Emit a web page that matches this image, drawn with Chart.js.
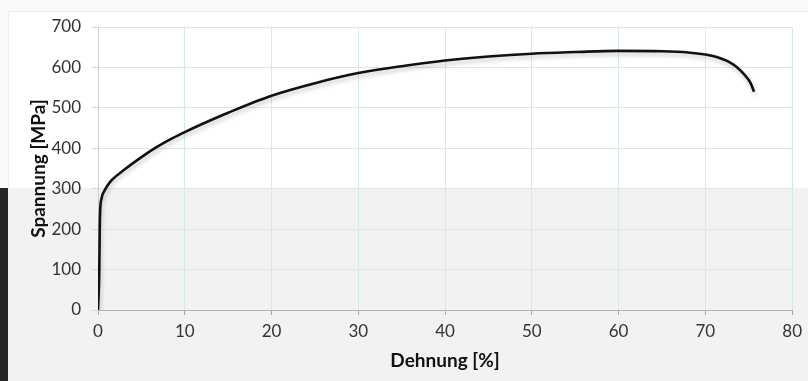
<!DOCTYPE html>
<html><head><meta charset="utf-8">
<script src="https://cdn.jsdelivr.net/npm/chart.js@4"></script>
<style>
html,body{margin:0;padding:0;}
body{width:808px;height:381px;position:relative;overflow:hidden;background:#fafafa;}
#card{position:absolute;left:8px;top:11px;right:0;height:177px;background:#fff;border-top:1px solid #ececec;border-left:1px solid #ececec;}
#bottom{position:absolute;left:0;top:188px;width:808px;height:193px;background:#f2f2f2;}
#strip{position:absolute;left:0;top:188px;width:8px;height:193px;background:#262626;}
#wrap{position:absolute;left:0;top:0;width:808px;height:381px;}
</style></head>
<body>
<div id="card"></div><div id="bottom"></div><div id="strip"></div>
<div id="wrap"><canvas id="c" width="808" height="381"></canvas></div>
<script>
const strain = [0, 0.15, 0.2, 0.25, 0.4, 0.8, 1.4, 2.2, 2.9, 4.8, 6.7, 8.6, 10, 12, 15, 20, 25, 30, 35, 40, 45, 50, 55, 60, 65, 68, 70, 71.3, 72.5, 73.6, 74.5, 75.2, 75.6];
const stress = [0, 100, 200, 245, 275, 297, 317, 333, 345, 375, 402, 425, 440, 460, 488, 530, 561, 586, 603, 617, 627, 634, 638, 641, 640, 637, 632, 626, 616, 601, 582, 562, 540];
const xTicks = [0, 10, 20, 30, 40, 50, 60, 70, 80];
const yTicks = [0, 100, 200, 300, 400, 500, 600, 700];
const xTitle = 'Dehnung [%]';
const yTitle = 'Spannung [MPa]';

const points = strain.map((x, i) => ({x: x, y: stress[i]}));

const shadowPlugin = {
  id: 'shadow',
  beforeDatasetDraw(chart) {
    const ctx = chart.ctx;
    ctx.save();
    ctx.shadowColor = 'rgba(0,0,0,0.22)';
    ctx.shadowBlur = 4;
    ctx.shadowOffsetX = 1;
    ctx.shadowOffsetY = 3;
  },
  afterDatasetDraw(chart) { chart.ctx.restore(); }
};

new Chart(document.getElementById('c'), {
  type: 'scatter',
  data: { datasets: [{
    data: points,
    showLine: true,
    borderColor: '#111111',
    borderWidth: 2.6,
    pointRadius: 0,
    cubicInterpolationMode: 'monotone',
    fill: false
  }]},
  plugins: [shadowPlugin],
  options: {
    responsive: false,
    animation: false,
    layout: { padding: { left: 27, right: 13, top: 27, bottom: 9 } },
    plugins: { legend: { display: false }, tooltip: { enabled: false } },
    scales: {
      x: {
        type: 'linear', min: 0, max: 80,
        afterBuildTicks(s) { s.ticks = xTicks.map(v => ({value: v})); },
        afterFit(s) { s.height = 62; },
        grid: { color: '#d6eae7', lineWidth: 1, tickLength: 5, tickColor: '#a8a8a8' },
        border: { color: '#b0b0b0', width: 1 },
        ticks: { color: '#333', font: { family: 'Lato', size: 17 }, padding: 6 },
        title: { display: true, text: xTitle, color: '#111', font: { family: 'Lato', size: 19, weight: 'bold' }, padding: { top: 0, bottom: 0 } }
      },
      y: {
        type: 'linear', min: 0, max: 700,
        afterBuildTicks(s) { s.ticks = yTicks.map(v => ({value: v})); },
        afterFit(s) { s.width = 71; },
        grid: { color: '#e4e4e4', lineWidth: 1, tickLength: 6, tickColor: '#d8d8d8' },
        border: { color: '#cfcfcf', width: 1 },
        ticks: { color: '#333', font: { family: 'Lato', size: 17 }, padding: 11 },
        title: { display: true, text: yTitle, color: '#111', font: { family: 'Lato', size: 19, weight: 'bold' }, padding: 0 }
      }
    }
  }
});
</script>
</body></html>
